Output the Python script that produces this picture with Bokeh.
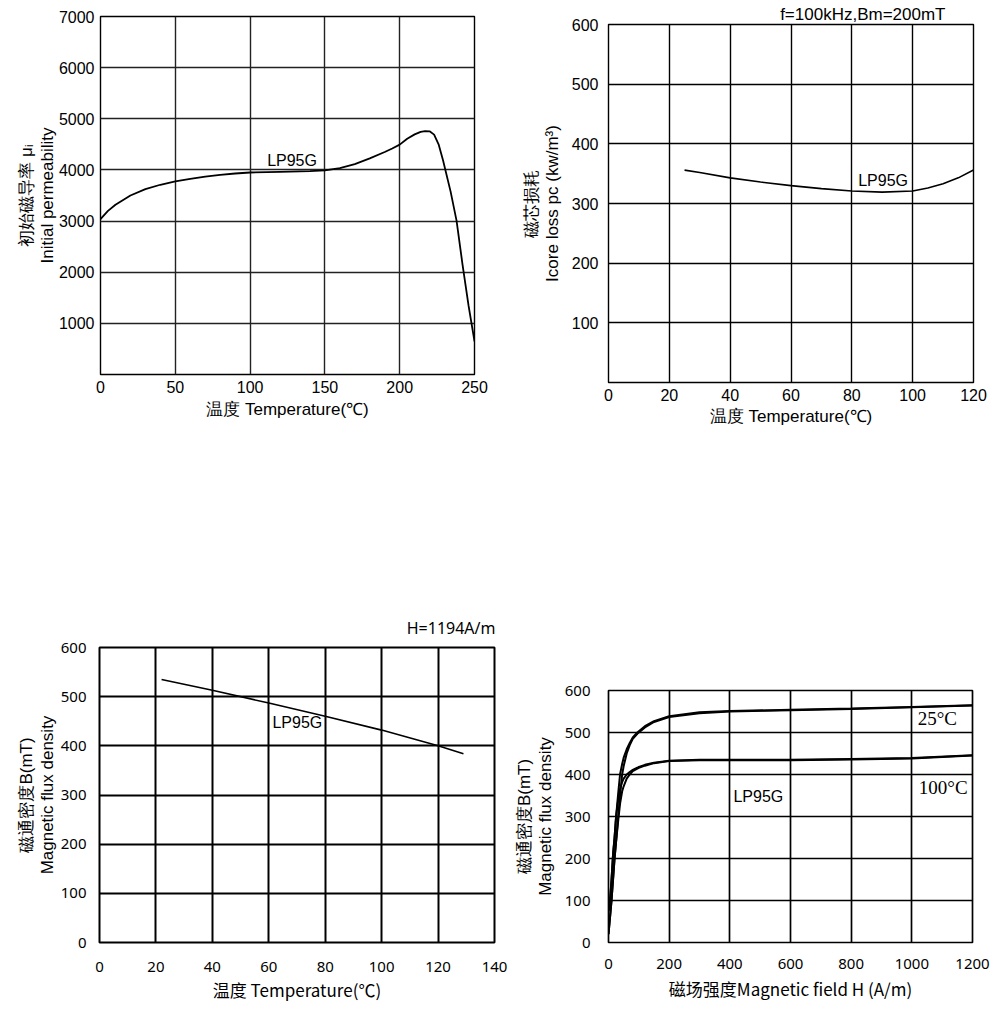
from bokeh.plotting import figure
from bokeh.layouts import column, row, Spacer
from bokeh.models import Range1d, Label
from bokeh.embed import file_html
from bokeh.resources import INLINE

# ---------------- data ----------------
# Chart 1: initial permeability vs temperature
perm_temp = [0, 5, 10, 20, 30, 40, 50, 60, 70, 80, 90, 100, 120, 140, 150, 160, 170, 180, 190, 195, 200,
             205, 210, 214, 217, 220, 223, 226, 229, 234, 238, 242, 246, 250]
perm_val = [3040, 3200, 3320, 3500, 3625, 3710, 3775, 3825, 3870, 3905, 3930, 3950, 3962, 3975, 3990,
            4035, 4115, 4225, 4350, 4420, 4495, 4610, 4695, 4745, 4760, 4755, 4690, 4500, 4185, 3580,
            3010, 2150, 1350, 650]
perm_xticks = [0, 50, 100, 150, 200, 250]
perm_yticks = [0, 1000, 2000, 3000, 4000, 5000, 6000, 7000]

# Chart 2: core loss vs temperature
loss_temp = [25, 30, 40, 50, 60, 70, 80, 90, 100, 105, 110, 115, 120]
loss_val = [356, 352, 343, 336, 330, 325, 321, 319, 321, 326, 333, 343, 356]
loss_xticks = [0, 20, 40, 60, 80, 100, 120]
loss_yticks = [0, 100, 200, 300, 400, 500, 600]

# Chart 3: flux density vs temperature
bt_temp = [22, 40, 60, 80, 100, 120, 129]
bt_val = [535, 513, 487, 460, 432, 400, 384]
bt_xticks = [0, 20, 40, 60, 80, 100, 120, 140]
bt_yticks = [0, 100, 200, 300, 400, 500, 600]

# Chart 4: B-H curves (two branches per temperature)
bh_h = [0, 5, 10, 15, 20, 25, 32, 38, 45, 50, 60, 70, 80, 95, 100, 120, 150, 200, 300, 400, 600, 800, 1000, 1200]
b25_a = [20, 60, 100, 150, 200, 240, 300, 350, 400, 420, 450, 470, 485, 497, 500, 512, 525, 537, 546, 550, 553, 556, 560, 564]
b25_b = [75, 100, 150, 210, 250, 300, 355, 400, 425, 440, 460, 475, 488, 500, 503, 515, 527, 539, 548, 551, 554, 557, 561, 565]
b100_a = [20, 60, 100, 150, 200, 240, 290, 330, 360, 372, 390, 400, 408, 414, 416, 421, 427, 432, 434, 434, 434, 436, 438, 445]
b100_b = [75, 100, 150, 210, 250, 300, 340, 365, 382, 390, 400, 406, 411, 416, 418, 423, 428, 433, 435, 435, 435, 437, 439, 446]
bh_xticks = [0, 200, 400, 600, 800, 1000, 1200]
bh_yticks = [0, 100, 200, 300, 400, 500, 600]

SANS = "Liberation Sans"
SANS2 = "Noto Sans"
CJK = "Noto Sans CJK SC"


def base_fig(width, height, xr, yr, mbl, mbr, mbt, mbb, grid_color="black", grid_w=1.5):
    p = figure(width=width, height=height, x_range=Range1d(*xr), y_range=Range1d(*yr),
               output_backend="svg", toolbar_location=None,
               min_border_left=mbl, min_border_right=mbr, min_border_top=mbt, min_border_bottom=mbb)
    p.outline_line_color = "black"
    p.outline_line_width = grid_w
    p.background_fill_color = "white"
    p.border_fill_color = "white"
    for ax in (p.xaxis, p.yaxis):
        ax.axis_line_color = None
        ax.major_tick_line_color = None
        ax.minor_tick_line_color = None
        ax.major_label_text_color = "black"
        ax.axis_label_text_color = "black"
        ax.axis_label_text_font_style = "normal"
        ax.axis_label_text_line_height = 1.1
    p.xgrid.grid_line_color = grid_color
    p.ygrid.grid_line_color = grid_color
    p.xgrid.grid_line_width = grid_w
    p.ygrid.grid_line_width = grid_w
    p.xgrid.grid_line_alpha = 1
    p.ygrid.grid_line_alpha = 1
    return p


def set_title(p, text, font, size, offset, standoff):
    p.title.text = text
    p.title.align = "right"
    p.title.offset = offset
    p.title.standoff = standoff
    p.title.text_font = font
    p.title.text_font_size = size
    p.title.text_font_style = "normal"
    p.title.text_color = "black"


# ---------------- Chart 1 ----------------
p1 = base_fig(500, 440, (0, 250), (0, 7000), 100, 26, 8, 74, grid_color="#222222", grid_w=1.4)
p1.xaxis.ticker = perm_xticks
p1.yaxis.ticker = perm_yticks
p1.yaxis.major_label_overrides = {0: ""}
for ax in (p1.xaxis, p1.yaxis):
    ax.major_label_text_font = SANS
    ax.major_label_text_font_size = "16px"
    ax.axis_label_text_font = SANS
    ax.axis_label_text_font_size = "17px"
p1.xaxis.major_label_standoff = 0
p1.xaxis.axis_label_standoff = 4
p1.yaxis.major_label_standoff = 0
p1.yaxis.axis_label_standoff = -1
p1.xaxis.axis_label = "温度 Temperature(℃)"
p1.yaxis.axis_label = "初始磁导率 μᵢ\nInitial permeability"
p1.line(perm_temp, perm_val, line_color="black", line_width=1.8)
p1.add_layout(Label(x=111.4, y=4185, text="LP95G", text_font=SANS, text_font_size="16px",
                    text_align="left", text_baseline="middle", text_color="black"))

# ---------------- Chart 2 ----------------
p2 = base_fig(499, 448, (0, 120), (0, 600), 108, 26, 24, 66, grid_w=1.4)
p2.xaxis.ticker = loss_xticks
p2.yaxis.ticker = loss_yticks
p2.yaxis.major_label_overrides = {0: ""}
for ax in (p2.xaxis, p2.yaxis):
    ax.major_label_text_font = SANS
    ax.major_label_text_font_size = "16px"
    ax.axis_label_text_font = SANS
    ax.axis_label_text_font_size = "17px"
p2.xaxis.major_label_standoff = 0
p2.xaxis.axis_label_standoff = 3
p2.yaxis.major_label_standoff = 4
p2.yaxis.axis_label_standoff = 7
p2.xaxis.axis_label = "温度 Temperature(℃)"
p2.yaxis.axis_label = "磁芯损耗\nIcore loss pc (kw/m³)"
set_title(p2, "f=100kHz,Bm=200mT", SANS, "17px", 28, 1)
p2.line(loss_temp, loss_val, line_color="black", line_width=1.6)
p2.add_layout(Label(x=82.1, y=338.7, text="LP95G", text_font=SANS, text_font_size="16px",
                    text_align="left", text_baseline="middle", text_color="black"))

# ---------------- Chart 3 ----------------
p3 = base_fig(510, 560, (0, 140), (0, 600), 99, 16, 199, 66, grid_w=2)
p3.xaxis.ticker = bt_xticks
p3.yaxis.ticker = bt_yticks
for ax in (p3.xaxis, p3.yaxis):
    ax.major_label_text_font = SANS2
    ax.major_label_text_font_size = "15px"
p3.xaxis.axis_label_text_font = CJK
p3.xaxis.axis_label_text_font_size = "17px"
p3.yaxis.axis_label_text_font = SANS
p3.yaxis.axis_label_text_font_size = "17px"
p3.xaxis.major_label_standoff = 13
p3.xaxis.axis_label_standoff = 2
p3.yaxis.major_label_standoff = 7
p3.yaxis.axis_label_standoff = 1
p3.xaxis.axis_label = "温度 Temperature(℃)"
p3.yaxis.axis_label = "磁通密度B(mT)\nMagnetic flux density"
set_title(p3, "H=1194A/m", SANS2, "16px", -1, 17)
p3.line(bt_temp, bt_val, line_color="black", line_width=1.6)
p3.add_layout(Label(x=61.3, y=447.7, text="LP95G", text_font=SANS, text_font_size="16px",
                    text_align="left", text_baseline="middle", text_color="black"))

# ---------------- Chart 4 ----------------
p4 = base_fig(489, 517, (0, 1200), (0, 600), 98, 27, 199, 66, grid_w=1.7)
p4.xaxis.ticker = bh_xticks
p4.yaxis.ticker = bh_yticks
for ax in (p4.xaxis, p4.yaxis):
    ax.major_label_text_font = SANS2
    ax.major_label_text_font_size = "15px"
p4.xaxis.axis_label_text_font = CJK
p4.xaxis.axis_label_text_font_size = "17px"
p4.yaxis.axis_label_text_font = SANS
p4.yaxis.axis_label_text_font_size = "17px"
p4.xaxis.major_label_standoff = 10
p4.xaxis.axis_label_standoff = 4
p4.yaxis.major_label_standoff = 12
p4.yaxis.axis_label_standoff = 7
p4.xaxis.axis_label = "磁场强度Magnetic field H (A/m)"
p4.yaxis.axis_label = "磁通密度B(mT)\nMagnetic flux density"
for series in (b25_a, b25_b, b100_a, b100_b):
    p4.line(bh_h, series, line_color="black", line_width=2)
p4.add_layout(Label(x=411.8, y=347, text="LP95G", text_font=SANS, text_font_size="16px",
                    text_align="left", text_baseline="middle", text_color="black"))
p4.add_layout(Label(x=1019.5, y=532.5, text="25°C", text_font="Liberation Serif", text_font_size="19px",
                    text_align="left", text_baseline="middle", text_color="black"))
p4.add_layout(Label(x=1023, y=368, text="100°C", text_font="Liberation Serif", text_font_size="19px",
                    text_align="left", text_baseline="middle", text_color="black"))

layout = column(row(column(Spacer(height=8), p1), p2),
                row(p3, column(Spacer(height=43), p4)))

open("out.html", "w").write(file_html(layout, INLINE))
